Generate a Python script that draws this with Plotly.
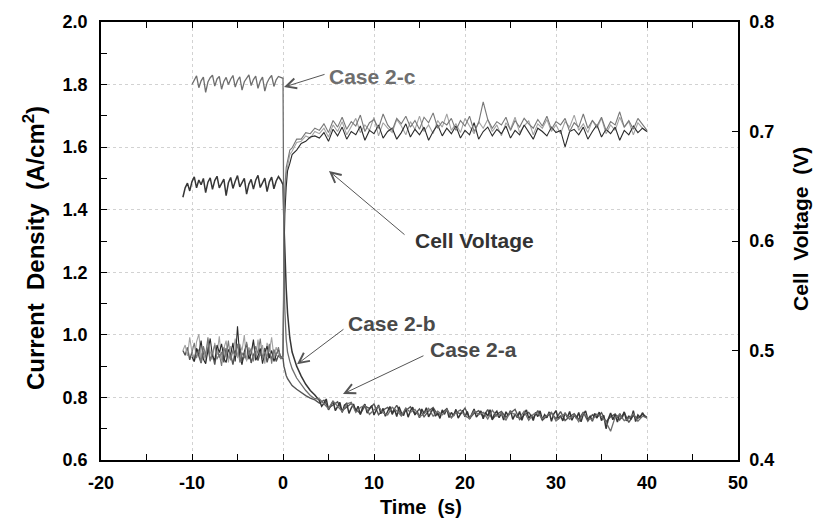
import numpy as np
import plotly.graph_objects as go

# ---------------- time grids (s) ----------------
T_PRE = np.round(np.arange(-11.0, 0.0, 0.25), 2)          # before the voltage step
T_TR = [0.0, 0.1, 0.2, 0.35, 0.5, 0.75, 1.0, 1.5, 2.0, 2.5, 3.0, 3.5]   # transient
T_SS = np.round(np.arange(4.0, 40.01, 0.5), 2)            # after the step
T_SS_FINE = np.round(np.arange(4.0, 40.01, 0.25), 2)      # after the step (finer record)

# ---------------- current density (A/cm2) ----------------
I_2C_PRE = [1.800, 1.815, 1.828, 1.790, 1.812, 1.824, 1.775, 1.808, 1.822, 1.830,
            1.795, 1.818, 1.826, 1.785, 1.810, 1.823, 1.800, 1.817, 1.829, 1.792,
            1.813, 1.825, 1.782, 1.809, 1.821, 1.831, 1.797, 1.816, 1.827, 1.788,
            1.811, 1.824, 1.779, 1.806, 1.820, 1.829, 1.794, 1.815, 1.826, 1.822]
I_2C_TR = [1.820, 1.250, 1.080, 0.985, 0.945, 0.915, 0.892, 0.862, 0.840, 0.822, 0.806, 0.796]
I_2C_SS = [0.795, 0.780, 0.764, 0.788, 0.770, 0.755, 0.779, 0.784, 0.752, 0.768,
           0.775, 0.746, 0.760, 0.771, 0.750, 0.744, 0.769, 0.757, 0.741, 0.766,
           0.752, 0.762, 0.738, 0.748, 0.765, 0.740, 0.756, 0.744, 0.762, 0.735,
           0.751, 0.760, 0.741, 0.733, 0.757, 0.745, 0.752, 0.731, 0.759, 0.740,
           0.748, 0.728, 0.754, 0.743, 0.735, 0.756, 0.727, 0.746, 0.751, 0.732,
           0.742, 0.753, 0.725, 0.738, 0.749, 0.730, 0.744, 0.722, 0.750, 0.736,
           0.728, 0.747, 0.739, 0.721, 0.692, 0.737, 0.745, 0.726, 0.733, 0.748,
           0.724, 0.740, 0.735]

I_2B_PRE = [1.440, 1.470, 1.485, 1.460, 1.490, 1.505, 1.470, 1.495, 1.480, 1.500,
            1.455, 1.488, 1.502, 1.465, 1.493, 1.507, 1.470, 1.484, 1.498, 1.445,
            1.486, 1.503, 1.468, 1.491, 1.509, 1.473, 1.488, 1.500, 1.450, 1.482,
            1.497, 1.466, 1.494, 1.510, 1.471, 1.487, 1.501, 1.458, 1.489, 1.504,
            1.467, 1.492, 1.506, 1.495]
I_2B_TR = [1.480, 1.360, 1.250, 1.150, 1.070, 0.990, 0.945, 0.900, 0.868, 0.842, 0.822, 0.808]
I_2B_SS = [0.790, 0.772, 0.781, 0.795, 0.760, 0.776, 0.788, 0.758, 0.770, 0.784, 0.752, 0.775,
           0.781, 0.749, 0.766, 0.779, 0.755, 0.772, 0.745, 0.768, 0.778, 0.750, 0.763, 0.774,
           0.744, 0.760, 0.776, 0.748, 0.765, 0.740, 0.758, 0.771, 0.746, 0.762, 0.739, 0.770,
           0.752, 0.742, 0.766, 0.737, 0.757, 0.769, 0.744, 0.755, 0.735, 0.763, 0.748, 0.767,
           0.738, 0.754, 0.765, 0.740, 0.751, 0.733, 0.760, 0.746, 0.764, 0.736, 0.752, 0.741,
           0.762, 0.734, 0.749, 0.759, 0.738, 0.755, 0.731, 0.750, 0.763, 0.737, 0.746, 0.757,
           0.732, 0.752, 0.740, 0.761, 0.729, 0.748, 0.756, 0.735, 0.750, 0.728, 0.754, 0.742,
           0.758, 0.730, 0.746, 0.736, 0.755, 0.727, 0.749, 0.760, 0.733, 0.744, 0.726, 0.752,
           0.739, 0.757, 0.729, 0.745, 0.735, 0.754, 0.724, 0.747, 0.758, 0.731, 0.742, 0.725,
           0.751, 0.736, 0.755, 0.727, 0.744, 0.733, 0.752, 0.722, 0.746, 0.757, 0.730, 0.740,
           0.724, 0.749, 0.734, 0.753, 0.726, 0.743, 0.700, 0.731, 0.750, 0.729, 0.745, 0.721,
           0.748, 0.733, 0.754, 0.725, 0.741, 0.730, 0.758, 0.723, 0.744, 0.736, 0.751, 0.739,
           0.734]

I_2A_PRE = [0.950, 0.935, 0.960, 0.920, 0.945, 0.915, 0.955, 0.930, 0.910, 0.948,
            0.925, 0.962, 0.918, 0.940, 0.905, 0.952, 0.928, 0.945, 0.912, 0.958,
            0.922, 0.938, 0.905, 0.950, 0.930, 0.965, 0.915, 0.942, 0.920, 0.955,
            0.910, 0.936, 0.948, 0.918, 0.944, 0.926, 0.958, 0.912, 0.940, 0.922,
            0.950, 0.915, 0.935, 0.925]
I_2A_TR = [0.925, 0.900, 0.885, 0.870, 0.860, 0.848, 0.838, 0.826, 0.815, 0.806, 0.798, 0.792]
I_2A_SS = [0.782, 0.791, 0.766, 0.775, 0.786, 0.758, 0.770, 0.781, 0.762, 0.748,
           0.772, 0.765, 0.779, 0.745, 0.760, 0.768, 0.752, 0.775, 0.742, 0.758,
           0.770, 0.747, 0.763, 0.738, 0.757, 0.768, 0.744, 0.751, 0.764, 0.736,
           0.755, 0.747, 0.766, 0.733, 0.749, 0.758, 0.739, 0.761, 0.730, 0.746,
           0.755, 0.737, 0.750, 0.762, 0.729, 0.744, 0.752, 0.734, 0.758, 0.727,
           0.741, 0.750, 0.732, 0.755, 0.726, 0.739, 0.748, 0.730, 0.753, 0.724,
           0.745, 0.736, 0.751, 0.722, 0.738, 0.747, 0.728, 0.752, 0.720, 0.742,
           0.733, 0.746, 0.737]

# ---------------- cell voltage (V) ----------------
V_A_PRE = [0.500, 0.505, 0.495, 0.512, 0.498, 0.490, 0.508, 0.515, 0.494, 0.503,
           0.488, 0.510, 0.499, 0.492, 0.507, 0.496, 0.513, 0.491, 0.502, 0.509,
           0.489, 0.504, 0.497, 0.511, 0.493, 0.506, 0.500, 0.514, 0.490, 0.503,
           0.498, 0.508, 0.492, 0.510, 0.495, 0.505, 0.488, 0.507, 0.499, 0.512,
           0.494, 0.503, 0.497, 0.493]
V_A_TR = [0.496, 0.600, 0.640, 0.661, 0.669, 0.679, 0.682, 0.690, 0.691, 0.696, 0.694, 0.700]
V_A_SS = [0.698, 0.703, 0.695, 0.706, 0.700, 0.709, 0.697, 0.704, 0.712, 0.699,
          0.706, 0.701, 0.713, 0.696, 0.708, 0.703, 0.699, 0.711, 0.705, 0.697,
          0.709, 0.702, 0.714, 0.700, 0.706, 0.698, 0.710, 0.704, 0.716, 0.701,
          0.707, 0.699, 0.712, 0.705, 0.698, 0.709, 0.703, 0.711, 0.700, 0.706,
          0.696, 0.708, 0.702, 0.713, 0.699, 0.705, 0.710, 0.697, 0.707, 0.703,
          0.711, 0.700, 0.706, 0.698, 0.709, 0.704, 0.715, 0.701, 0.707, 0.699,
          0.710, 0.703, 0.712, 0.698, 0.706, 0.701, 0.713, 0.704, 0.709, 0.697,
          0.708, 0.703, 0.700]

V_B_PRE = [0.494, 0.490, 0.502, 0.497, 0.509, 0.492, 0.488, 0.500, 0.511, 0.495,
           0.491, 0.505, 0.498, 0.506, 0.493, 0.489, 0.501, 0.496, 0.507, 0.490,
           0.522, 0.494, 0.487, 0.499, 0.506, 0.492, 0.497, 0.510, 0.491, 0.495,
           0.502, 0.488, 0.498, 0.504, 0.493, 0.500, 0.490, 0.496, 0.501, 0.494]
V_B_TR = [0.494, 0.580, 0.625, 0.649, 0.664, 0.671, 0.679, 0.683, 0.689, 0.691, 0.695, 0.696]
V_B_SS = [0.694, 0.699, 0.691, 0.702, 0.696, 0.704, 0.693, 0.700, 0.697, 0.705,
          0.692, 0.701, 0.698, 0.706, 0.694, 0.700, 0.703, 0.693, 0.699, 0.707,
          0.695, 0.702, 0.697, 0.704, 0.692, 0.700, 0.706, 0.696, 0.703, 0.698,
          0.705, 0.694, 0.701, 0.697, 0.708, 0.693, 0.700, 0.704, 0.696, 0.702,
          0.698, 0.705, 0.694, 0.701, 0.697, 0.706, 0.699, 0.693, 0.703, 0.700,
          0.696, 0.704, 0.699, 0.701, 0.686, 0.700, 0.702, 0.697, 0.704, 0.693,
          0.700, 0.706, 0.695, 0.702, 0.698, 0.704, 0.692, 0.701, 0.697, 0.705,
          0.699, 0.703, 0.700]

V_C_PRE = [0.498, 0.507, 0.493, 0.501, 0.489, 0.504, 0.496, 0.512, 0.490, 0.499,
           0.505, 0.492, 0.497, 0.486, 0.503, 0.494, 0.509, 0.491, 0.500, 0.495,
           0.506, 0.489, 0.498, 0.493, 0.508, 0.496, 0.502, 0.490, 0.504, 0.497,
           0.511, 0.492, 0.499, 0.494, 0.506, 0.488, 0.501, 0.495, 0.503, 0.492]
V_C_TR = [0.495, 0.610, 0.648, 0.667, 0.673, 0.683, 0.685, 0.693, 0.693, 0.699, 0.698, 0.703]
V_C_SS = [0.701, 0.707, 0.699, 0.710, 0.704, 0.713, 0.702, 0.709, 0.705, 0.715,
          0.700, 0.708, 0.711, 0.703, 0.716, 0.706, 0.701, 0.712, 0.707, 0.714,
          0.704, 0.710, 0.702, 0.713, 0.708, 0.717, 0.703, 0.709, 0.706, 0.712,
          0.701, 0.710, 0.705, 0.714, 0.700, 0.708, 0.727, 0.711, 0.703, 0.709,
          0.706, 0.713, 0.701, 0.710, 0.704, 0.712, 0.707, 0.703, 0.711, 0.705,
          0.714, 0.702, 0.709, 0.706, 0.712, 0.700, 0.708, 0.704, 0.716, 0.703,
          0.710, 0.705, 0.713, 0.701, 0.709, 0.706, 0.718, 0.704, 0.710, 0.702,
          0.712, 0.707, 0.701]

# ---------------- axis ticks / labels ----------------
X_TICKS = [-20, -10, 0, 10, 20, 30, 40, 50]
X_LABELS = ["-20", "-10", "0", "10", "20", "30", "40", "50"]
Y1_TICKS = [0.6, 0.8, 1.0, 1.2, 1.4, 1.6, 1.8, 2.0]
Y1_LABELS = ["0.6", "0.8", "1.0", "1.2", "1.4", "1.6", "1.8", "2.0"]
Y2_TICKS = [0.4, 0.5, 0.6, 0.7, 0.8]
Y2_LABELS = ["0.4", "0.5", "0.6", "0.7", "0.8"]

FONT = "Liberation Sans, Arial, sans-serif"


def series(pre, tr, ss, t_ss):
    t = list(T_PRE[-len(pre):]) + list(T_TR[:len(tr)]) + list(t_ss[:len(ss)])
    return t, list(pre) + list(tr) + list(ss)


def bold(labels):
    return ["<b>%s</b>" % s for s in labels]


fig = go.Figure()

currents = [
    ("Case 2-a current", I_2A_PRE, I_2A_TR, I_2A_SS, T_SS, "#555555", 1.4),
    ("Case 2-b current", I_2B_PRE, I_2B_TR, I_2B_SS, T_SS_FINE, "#363636", 1.5),
    ("Case 2-c current", I_2C_PRE, I_2C_TR, I_2C_SS, T_SS, "#6e6e6e", 1.3),
]
for name, p, tr, ss, tss, col, w in currents:
    t, v = series(p, tr, ss, tss)
    fig.add_trace(go.Scatter(x=t, y=v, mode="lines", name=name,
                             line=dict(color=col, width=w), yaxis="y"))

voltages = [
    ("Voltage a", V_A_PRE, V_A_TR, V_A_SS, "#a3a3a3"),
    ("Voltage b", V_B_PRE, V_B_TR, V_B_SS, "#2a2a2a"),
    ("Voltage c", V_C_PRE, V_C_TR, V_C_SS, "#787878"),
]
for name, p, tr, ss, col in voltages:
    t, v = series(p, tr, ss, T_SS)
    fig.add_trace(go.Scatter(x=t, y=v, mode="lines", name=name,
                             line=dict(color=col, width=1.1), yaxis="y2"))

tickfont = dict(family=FONT, size=18, color="black", weight=700)
common = dict(showline=True, linecolor="black", linewidth=1.5,
              ticks="inside", ticklen=6, tickwidth=1.2, tickcolor="black",
              tickfont=tickfont, zeroline=False)
grid = dict(showgrid=True, gridcolor="#d2d2d2", griddash="dot", gridwidth=1)

fig.update_layout(
    width=814, height=521,
    margin=dict(l=101, r=76, t=16, b=61),
    paper_bgcolor="white", plot_bgcolor="white",
    showlegend=False,
    xaxis=dict(range=[-20, 50], tickvals=X_TICKS, ticktext=bold(X_LABELS),
               mirror="allticks",
               minor=dict(dtick=5, tick0=0, ticks="inside", ticklen=6, tickcolor="black",
                          showgrid=False),
               ticklabelstandoff=6, **grid, **common),
    yaxis=dict(range=[0.6, 2.0], tickvals=Y1_TICKS, ticktext=bold(Y1_LABELS),
               minor=dict(dtick=0.1, tick0=0, ticks="inside", ticklen=6, tickcolor="black",
                          showgrid=False),
               ticklabelstandoff=8, **grid, **common),
    yaxis2=dict(range=[0.4, 0.8], tickvals=Y2_TICKS, ticktext=bold(Y2_LABELS),
                overlaying="y", side="right", showgrid=False,
                ticklabelstandoff=6, **common),
)

# axis titles
fig.add_annotation(text="<b>Time\u00a0\u00a0(s)</b>", xref="paper", yref="paper",
                   x=0.5016, y=-0.108, showarrow=False,
                   font=dict(family=FONT, size=20, color="black"),
                   xanchor="center", yanchor="middle")
fig.add_annotation(text="<b>Current\u00a0\u00a0Density\u00a0\u00a0(A/cm<sup>2</sup>)</b>",
                   xref="paper", yref="paper", x=-0.1052, y=0.484, textangle=-90,
                   showarrow=False, font=dict(family=FONT, size=24, color="black"),
                   xanchor="center", yanchor="middle")
fig.add_annotation(text="<b>Cell\u00a0\u00a0Voltage\u00a0\u00a0(V)</b>", xref="paper", yref="paper",
                   x=1.097, y=0.527, textangle=-90, showarrow=False,
                   font=dict(family=FONT, size=21, color="black"),
                   xanchor="center", yanchor="middle")

# labels with arrows
labels = [
    ("Case 2-c", 9.78, 1.827, "#6e6e6e", 4.62, 1.833, 0.11, 1.792),
    ("Cell Voltage", 20.99, 1.303, "#333333", 13.41, 1.319, 5.05, 1.524),
    ("Case 2-b", 11.98, 1.035, "#4a4a4a", 6.70, 1.019, 1.54, 0.906),
    ("Case 2-a", 20.88, 0.953, "#4a4a4a", 15.49, 0.934, 6.59, 0.811),
]
for txt, tx, ty, col, ax_, ay_, hx, hy in labels:
    fig.add_annotation(text="<b>%s</b>" % txt, x=tx, y=ty, xref="x", yref="y",
                       showarrow=False,
                       font=dict(family=FONT, size=21, color=col),
                       xanchor="center", yanchor="middle")
    fig.add_annotation(text="\u00a0", x=hx, y=hy, xref="x", yref="y",
                       ax=ax_, ay=ay_, axref="x", ayref="y", showarrow=True,
                       font=dict(size=1), borderpad=0,
                       arrowhead=5, arrowsize=2, arrowwidth=1, arrowcolor="#555555")

fig.write_html("out.html")
